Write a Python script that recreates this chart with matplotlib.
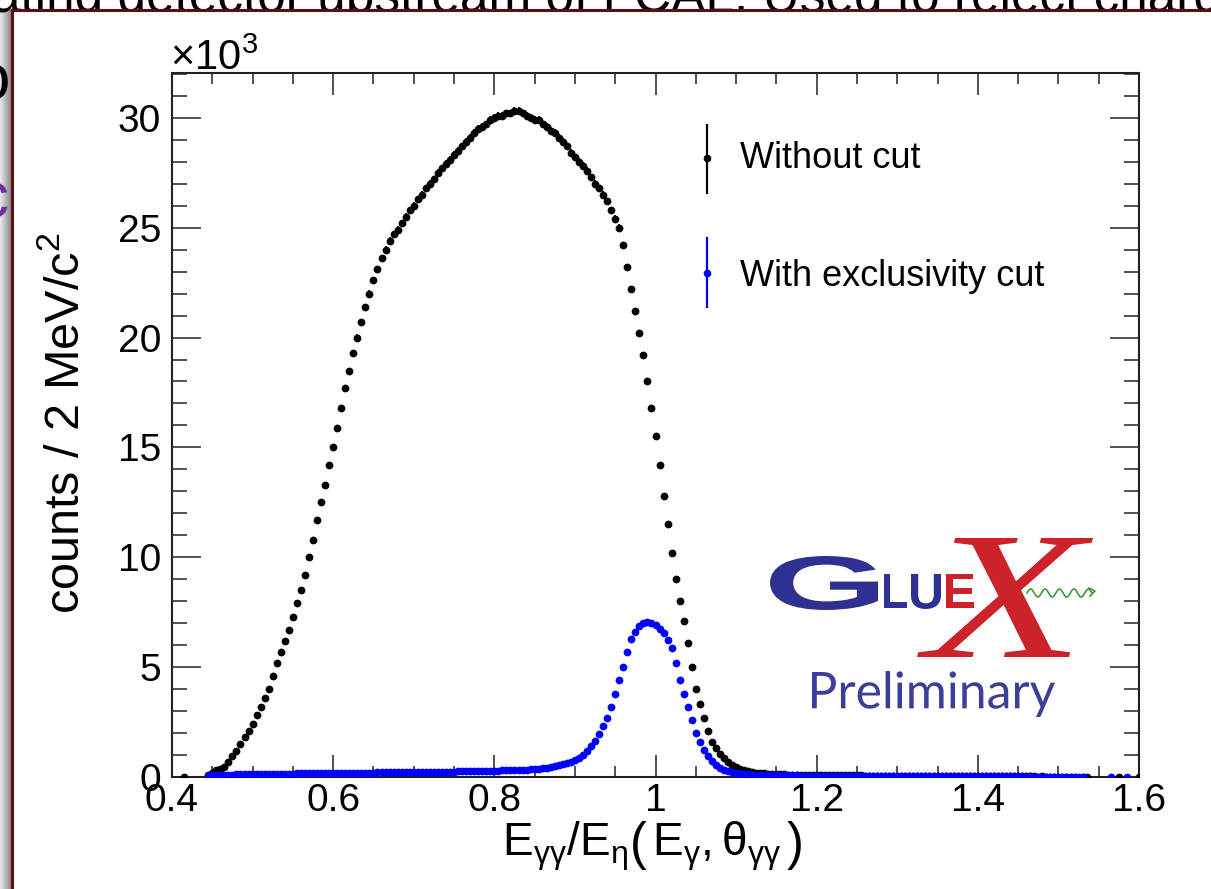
import numpy as np
import matplotlib
matplotlib.use("Agg")
import matplotlib.pyplot as plt
from matplotlib.textpath import TextPath
from matplotlib.patches import PathPatch, Rectangle
from matplotlib.font_manager import FontProperties
from matplotlib.transforms import Affine2D
from matplotlib.ticker import MultipleLocator, FuncFormatter

plt.rcParams['font.family'] = ['Liberation Sans', 'DejaVu Sans']
plt.rcParams['mathtext.fontset'] = 'custom'
plt.rcParams['mathtext.rm'] = 'Liberation Sans'
plt.rcParams['mathtext.it'] = 'Liberation Sans:italic'
plt.rcParams['mathtext.bf'] = 'Liberation Sans:bold'
plt.rcParams['mathtext.default'] = 'regular'

# ---------------- data (counts / 2 MeV, in units of 10^3) ----------------
bin_start = 0.400
bin_step = 0.005
N = None
without_cut = [
    N, N, N, 0.01, N, N, N, N, N, 0.10,                                   # 0.400-0.445
    0.20, 0.30, 0.38, 0.45, 0.70, 0.95, 1.20, 1.50, 1.80, 2.10,           # 0.450
    2.40, 2.80, 3.20, 3.60, 4.00, 4.60, 5.20, 5.70, 6.20, 6.70,           # 0.500
    7.30, 7.90, 8.50, 9.20, 10.0, 10.8, 11.7, 12.5, 13.3, 14.2,           # 0.550
    15.0, 15.9, 16.8, 17.7, 18.5, 19.3, 20.0, 20.7, 21.4, 22.0,           # 0.600
    22.6, 23.1, 23.6, 24.0, 24.4, 24.7, 24.9, 25.2, 25.5, 25.8,           # 0.650
    26.0, 26.3, 26.5, 26.8, 27.0, 27.2, 27.5, 27.7, 27.9, 28.1,           # 0.700
    28.3, 28.5, 28.7, 28.9, 29.1, 29.3, 29.5, 29.6, 29.7, 29.9,           # 0.750
    30.0, 30.1, 30.1, 30.2, 30.2, 30.3, 30.3, 30.2, 30.1, 30.0,           # 0.800
    29.9, 29.9, 29.7, 29.6, 29.4, 29.3, 29.1, 28.9, 28.7, 28.4,           # 0.850
    28.2, 28.0, 27.8, 27.6, 27.3, 27.0, 26.8, 26.5, 26.2, 25.8,           # 0.900
    25.4, 25.0, 24.2, 23.2, 22.2, 21.2, 20.2, 19.2, 18.0, 16.8,           # 0.950
    15.5, 14.2, 12.8, 11.5, 10.2, 9.0, 8.0, 7.1, 6.1, 5.0,                # 1.000
    4.0, 3.3, 2.7, 2.1, 1.6, 1.3, 1.05, 0.85, 0.70, 0.55,                 # 1.050
    0.45, 0.38, 0.32, 0.27, 0.23, 0.20, 0.18, 0.16, 0.15, 0.14,           # 1.100
    0.13, 0.12, 0.12, 0.11, 0.11, 0.10, 0.10, 0.10, 0.09, 0.09,           # 1.150
    0.09, 0.09, 0.08, 0.08, 0.08, 0.08, 0.07, 0.07, 0.07, 0.07,           # 1.200
    0.07, 0.07, 0.06, 0.06, 0.06, 0.06, 0.06, 0.06, 0.06, 0.05,           # 1.250
    0.05, 0.05, 0.05, 0.05, 0.05, 0.05, 0.05, 0.04, 0.05, 0.04,           # 1.300
    0.04, 0.04, 0.04, 0.04, 0.04, 0.04, 0.04, 0.04, 0.04, 0.04,           # 1.350
    0.04, 0.03, 0.04, 0.03, 0.03, 0.03, 0.03, 0.03, 0.03, 0.03,           # 1.400
    0.03, 0.03, 0.03, 0.03, 0.03, 0.02, 0.03, 0.02, 0.02, 0.02,           # 1.450
    0.02, 0.02, 0.02, 0.02, 0.02, N, 0.02, 0.02, N, N,                    # 1.500
    N, N, N, N, N, 0.01, N, N, N, N,                                      # 1.550
    0.01,                                                                 # 1.600
]
with_excl_cut = [
    N, N, N, N, N, N, N, N, N, 0.05,                                      # 0.400-0.445
    0.08, 0.09, 0.10, 0.10, 0.11, 0.11, 0.12, 0.12, 0.12, 0.13,           # 0.450
    0.13, 0.13, 0.13, 0.14, 0.14, 0.14, 0.14, 0.15, 0.15, 0.15,           # 0.500
    0.15, 0.16, 0.16, 0.16, 0.16, 0.17, 0.17, 0.17, 0.17, 0.18,           # 0.550
    0.18, 0.18, 0.18, 0.19, 0.19, 0.19, 0.19, 0.20, 0.20, 0.20,           # 0.600
    0.20, 0.21, 0.21, 0.21, 0.21, 0.22, 0.22, 0.22, 0.22, 0.23,           # 0.650
    0.23, 0.23, 0.23, 0.24, 0.24, 0.24, 0.24, 0.25, 0.25, 0.25,           # 0.700
    0.25, 0.26, 0.26, 0.26, 0.27, 0.27, 0.27, 0.28, 0.28, 0.28,           # 0.750
    0.29, 0.29, 0.30, 0.30, 0.31, 0.31, 0.32, 0.33, 0.34, 0.35,           # 0.800
    0.36, 0.38, 0.40, 0.43, 0.46, 0.50, 0.54, 0.58, 0.62, 0.70,           # 0.850
    0.78, 0.88, 1.00, 1.20, 1.40, 1.65, 1.95, 2.30, 2.70, 3.20,           # 0.900
    3.80, 4.40, 5.00, 5.70, 6.30, 6.60, 6.85, 7.00, 7.05, 7.00,           # 0.950
    6.90, 6.75, 6.55, 6.25, 5.85, 5.20, 4.40, 3.80, 3.20, 2.60,           # 1.000
    2.00, 1.60, 1.25, 0.95, 0.72, 0.55, 0.42, 0.33, 0.26, 0.21,           # 1.050
    0.17, 0.15, 0.13, 0.12, 0.11, 0.10, 0.10, 0.09, 0.09, 0.08,           # 1.100
    0.08, 0.08, 0.07, 0.07, 0.07, 0.07, 0.06, 0.06, 0.06, 0.06,           # 1.150
    0.06, 0.05, 0.05, 0.05, 0.05, 0.05, 0.05, 0.05, 0.05, 0.05,           # 1.200
    0.05, 0.05, 0.05, 0.04, 0.05, 0.04, 0.04, 0.04, 0.04, 0.04,           # 1.250
    0.04, 0.04, 0.04, 0.04, 0.04, 0.04, 0.04, 0.04, 0.04, 0.04,           # 1.300
    0.04, 0.04, 0.03, 0.04, 0.03, 0.04, 0.03, 0.03, 0.03, 0.03,           # 1.350
    0.03, 0.03, 0.03, 0.03, 0.03, 0.03, 0.03, 0.03, 0.03, 0.03,           # 1.400
    0.03, 0.03, 0.02, 0.03, 0.02, 0.02, 0.02, 0.02, 0.02, 0.02,           # 1.450
    0.02, 0.02, 0.02, 0.02, 0.02, 0.02, 0.02, N, N, N,                    # 1.500
    N, N, N, 0.01, N, N, N, 0.01, N, N,                                   # 1.550
    N,                                                                    # 1.600
]
series_labels = ["Without cut", "With exclusivity cut"]
series_colors = ["#000000", "#0000ff"]
x_ticks = [0.4, 0.6, 0.8, 1.0, 1.2, 1.4, 1.6]
y_ticks = [0, 5, 10, 15, 20, 25, 30]

# ---------------- figure ----------------
W, H = 1211, 889
fig = plt.figure(figsize=(W / 100, H / 100), dpi=100)

def py(y):
    return H - y

# background layer (slide remnants, frame)
bg = fig.add_axes([0, 0, 1, 1], zorder=0)
bg.set_xlim(0, W); bg.set_ylim(0, H); bg.axis('off')
grad = np.linspace(0.90, 0.55, 12)[None, :]
bg.imshow(grad, extent=[0, 11, 0, py(8)], aspect='auto', cmap='gray',
          vmin=0, vmax=1, zorder=0.5)
bg.text(-8, py(12), "ating detector upstream of FCAL. Used to reject charg",
        fontsize=37, va='baseline', ha='left', color='black', zorder=1)
bg.text(-26, py(100), "o", fontsize=46, color='black', zorder=1)
bg.text(-24, py(218), "c", fontsize=46, color='#7030a0', zorder=1)
bg.add_patch(Rectangle((12, -10), 1260, py(10) + 10, facecolor='white',
                       edgecolor='#5a1010', lw=2.2, zorder=2))

# main axes
ax = fig.add_axes([172 / W, (H - 777) / H, 967 / W, 704 / H], zorder=1)
ax.set_facecolor('none')

x = bin_start + bin_step * np.arange(len(without_cut))
for vals, col, z in [(without_cut, series_colors[0], 3),
                     (with_excl_cut, series_colors[1], 4)]:
    v = np.array([np.nan if a is None else a for a in vals], dtype=float)
    err = np.sqrt(np.nan_to_num(v) * 1000.0) / 1000.0
    ax.errorbar(x, v, yerr=err, fmt='o', ms=5.6, color=col, ecolor=col,
                elinewidth=1.3, capsize=0, mew=0, zorder=z, clip_on=True)

ax.set_xlim(0.4, 1.6)
ax.set_ylim(0, 32.04)
ax.set_xticks(x_ticks)
ax.set_yticks(y_ticks)
ax.xaxis.set_minor_locator(MultipleLocator(0.05))
ax.yaxis.set_minor_locator(MultipleLocator(1))
ax.xaxis.set_major_formatter(FuncFormatter(lambda v, p: "%g" % round(v, 3)))
ax.yaxis.set_major_formatter(FuncFormatter(lambda v, p: "%g" % v))
ax.tick_params(axis='both', which='both', direction='in', top=True, right=True,
               width=1.1, colors='#222222', labelcolor='black')
ax.tick_params(axis='x', which='major', length=15.5, labelsize=28, pad=4)
ax.tick_params(axis='x', which='minor', length=8)
ax.tick_params(axis='y', which='major', length=21, labelsize=28, pad=8)
ax.tick_params(axis='y', which='minor', length=10.5)
for s in ax.spines.values():
    s.set_linewidth(1.5)
    s.set_color('#222222')

# foreground layer: labels, legend, logo
fg = fig.add_axes([0, 0, 1, 1], zorder=3)
fg.set_xlim(0, W); fg.set_ylim(0, H); fg.axis('off'); fg.patch.set_alpha(0)

fg.text(170, py(70), r'$\times10^{3}$', fontsize=30, va='baseline', ha='left')
fg.text(66, py(423), r'counts / 2 MeV/c$^{2}$', rotation=90, fontsize=35,
        ha='center', va='center')
fg.text(652, py(846),
        r'$E_{\gamma\gamma}/E_{\eta}\left(\,E_{\gamma},\theta_{\gamma\gamma}\,\right)$',
        fontsize=33, ha='center', va='center')

# legend
leg_rows = [(125, 193, 158, 158), (238, 307, 273, 276)]
for (t, b, dot, ty), lab, col in zip(leg_rows, series_labels, series_colors):
    fg.plot([707, 707], [py(t), py(b)], color=col, lw=1.6)
    fg.plot([707], [py(dot)], 'o', ms=5.5, color=col, mew=0)
    fg.text(740, py(ty), lab, fontsize=26, va='center', ha='left')

# GlueX logo
def glyph(s, x0, x1, top, bot, color, prop):
    tp = TextPath((0, 0), s, size=100, prop=prop)
    bb = tp.get_extents()
    tr = (Affine2D().translate(-bb.x0, -bb.y0)
          .scale((x1 - x0) / bb.width, (bot - top) / bb.height)
          .translate(x0, py(bot)))
    fg.add_patch(PathPatch(tr.transform_path(tp), facecolor=color,
                           edgecolor='none', zorder=5))

blue_logo = '#2e3192'
red_logo = '#cc2229'
bold = FontProperties(family='Liberation Sans', weight='bold')
glyph("G", 770, 878, 556, 610, blue_logo, bold)
glyph("L", 884, 907, 574, 608, blue_logo, bold)
glyph("U", 911, 941, 574, 609, blue_logo, bold)
glyph("E", 946, 974, 574, 608, red_logo, bold)
glyph("X", 917, 1093, 538, 657, red_logo,
      FontProperties(family='Liberation Serif', style='italic'))
wx = np.linspace(1027, 1092, 300)
fg.plot(wx, py(593) + 4 * np.sin((wx - 1027) / 65 * 2 * np.pi * 4.5),
        color='#3c9a3c', lw=1.2, zorder=6)
fg.plot([1089, 1095, 1090], [py(588), py(591), py(596)], color='#3c9a3c',
        lw=1.2, zorder=6)
glyph("Preliminary", 812, 1055, 671, 717, '#3b3f9a',
      FontProperties(family='Lato', weight='normal'))

fig.savefig("out.png", dpi=100)
